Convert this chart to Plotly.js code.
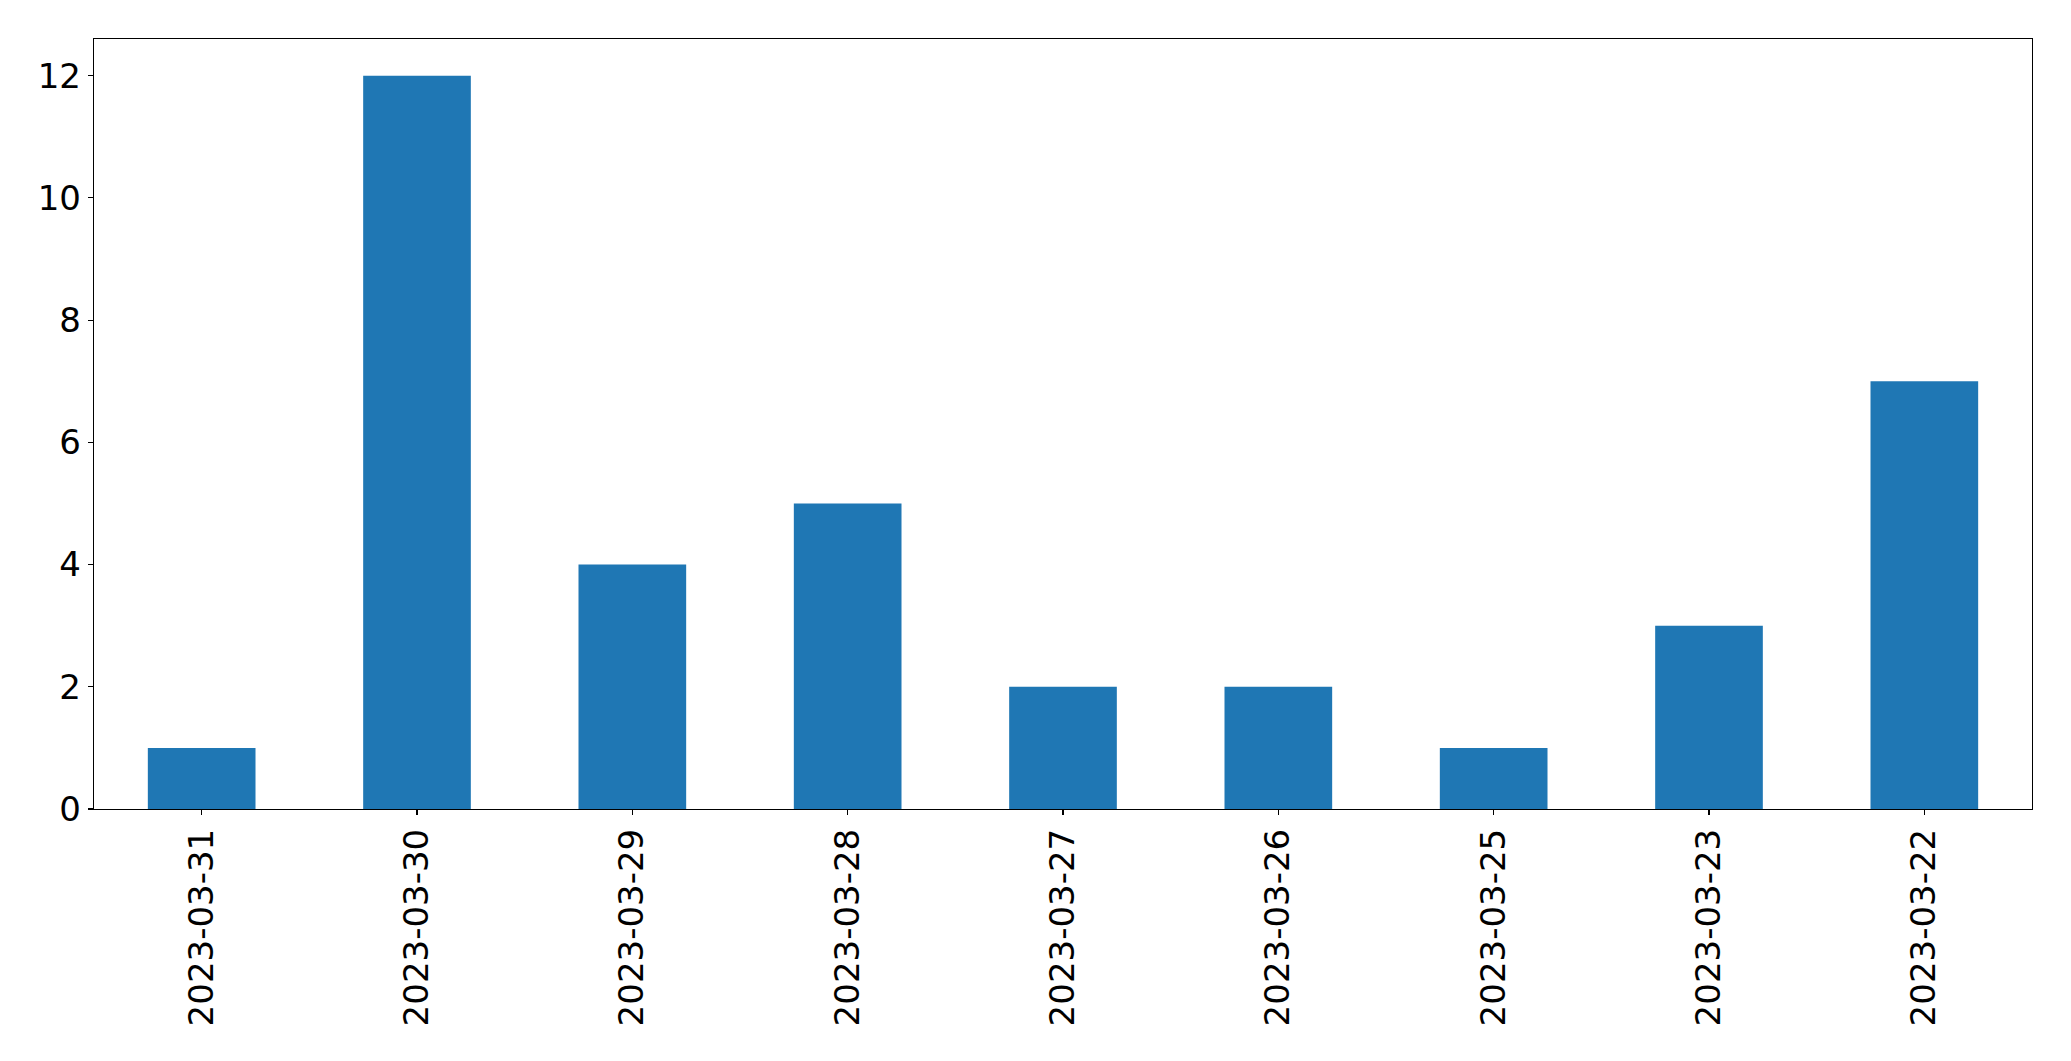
<!DOCTYPE html>
<html>
<head>
<meta charset="utf-8">
<script src="https://cdn.plot.ly/plotly-3.0.1.min.js"></script>
<style>html,body{margin:0;padding:0;background:#fff;}#chart{width:2071px;height:1061px;}</style>
</head>
<body>
<div id="chart"></div>
<script>
const categories = ["2023-03-31","2023-03-30","2023-03-29","2023-03-28","2023-03-27","2023-03-26","2023-03-25","2023-03-23","2023-03-22"];
const counts = [1, 12, 4, 5, 2, 2, 1, 3, 7];
const yTicks = [0, 2, 4, 6, 8, 10, 12];

const trace = {
  type: 'bar',
  x: categories,
  y: counts,
  width: 0.5,
  marker: {color: '#1f77b4', line: {width: 0}},
  hoverinfo: 'x+y'
};

const layout = {
  width: 2071,
  height: 1061,
  margin: {l: 94, r: 39, t: 39, b: 252, pad: 0},
  paper_bgcolor: '#ffffff',
  plot_bgcolor: '#ffffff',
  showlegend: false,
  font: {family: 'DejaVu Sans', size: 34, color: '#000'},
  xaxis: {
    type: 'category',
    range: [-0.5, 8.5],
    tickangle: -90,
    ticks: 'outside',
    ticklen: 5,
    tickwidth: 1.2,
    tickcolor: '#000',
    showline: true,
    linecolor: '#000',
    linewidth: 1.2,
    mirror: true,
    showgrid: false,
    zeroline: false,
    tickfont: {family: 'DejaVu Sans', size: 34, color: '#000'}
  },
  yaxis: {
    range: [0, 12.6],
    tickvals: yTicks,
    ticktext: yTicks.map(String),
    ticks: 'outside',
    ticklen: 5,
    tickwidth: 1.2,
    tickcolor: '#000',
    showline: true,
    linecolor: '#000',
    linewidth: 1.2,
    mirror: true,
    showgrid: false,
    zeroline: false,
    tickfont: {family: 'DejaVu Sans', size: 34, color: '#000'}
  }
};

Plotly.newPlot('chart', [trace], layout, {displayModeBar: false, staticPlot: true});
</script>
</body>
</html>
